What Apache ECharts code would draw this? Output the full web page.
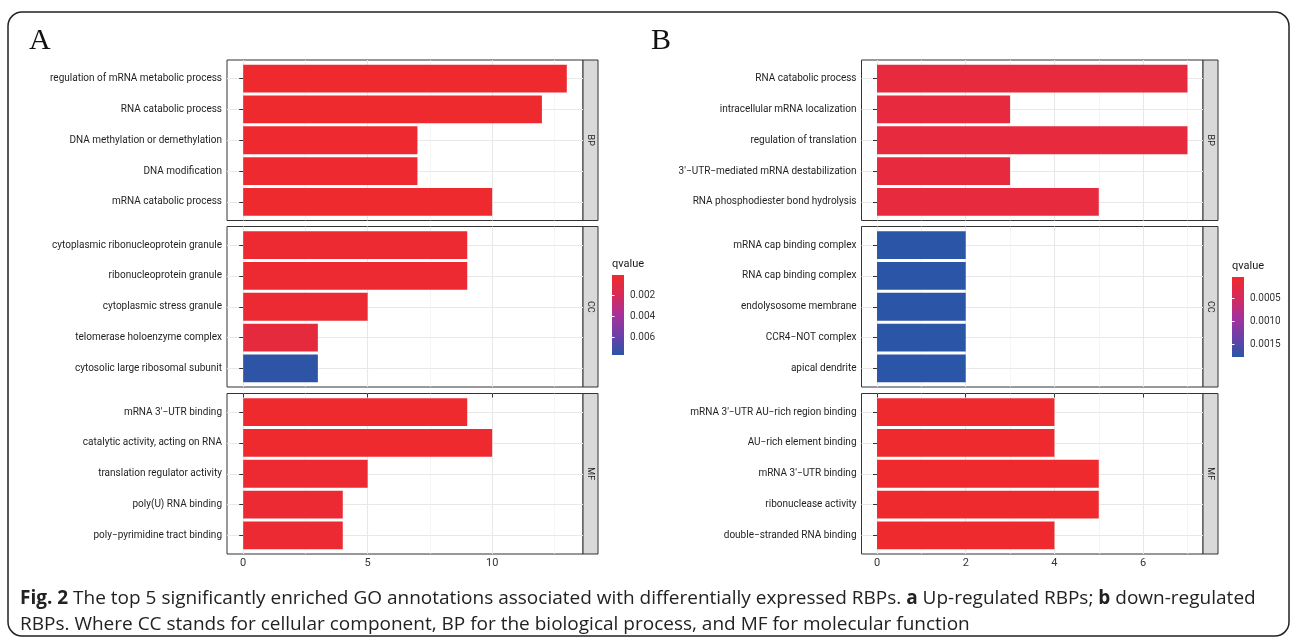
<!DOCTYPE html>
<html>
<head>
<meta charset="utf-8">
<script src="https://cdn.jsdelivr.net/npm/echarts@6/dist/echarts.min.js"></script>
<style>
html,body{margin:0;padding:0;background:#fff;}
#main{width:1295px;height:639px;}
</style>
</head>
<body>
<div id="main"></div>
<script>
// ---- panel A : up-regulated RBPs ----
var termsA_BP=['regulation of mRNA metabolic process','RNA catabolic process','DNA methylation or demethylation','DNA modification','mRNA catabolic process'];
var countA_BP=[13,12,7,7,10];
var qA_BP=[0.00008,0.0001,0.00015,0.00015,0.0001];
var termsA_CC=['cytoplasmic ribonucleoprotein granule','ribonucleoprotein granule','cytoplasmic stress granule','telomerase holoenzyme complex','cytosolic large ribosomal subunit'];
var countA_CC=[9,9,5,3,3];
var qA_CC=[0.0002,0.0002,0.0003,0.0008,0.0076];
var termsA_MF=['mRNA 3\'\u2212UTR binding','catalytic activity, acting on RNA','translation regulator activity','poly(U) RNA binding','poly\u2212pyrimidine tract binding'];
var countA_MF=[9,10,5,4,4];
var qA_MF=[0.0001,0.00008,0.0002,0.0003,0.0003];
var ticksA=[0,5,10];
var minorA=[2.5,7.5,12.5];
var legendTicksA=[0.002,0.004,0.006];
var qRangeA=[0.00005,0.0077];

// ---- panel B : down-regulated RBPs ----
var termsB_BP=['RNA catabolic process','intracellular mRNA localization','regulation of translation','3\'\u2212UTR\u2212mediated mRNA destabilization','RNA phosphodiester bond hydrolysis'];
var countB_BP=[7,3,7,3,5];
var qB_BP=[0.0002,0.0002,0.0002,0.0002,0.0002];
var termsB_CC=['mRNA cap binding complex','RNA cap binding complex','endolysosome membrane','CCR4\u2212NOT complex','apical dendrite'];
var countB_CC=[2,2,2,2,2];
var qB_CC=[0.00178,0.00178,0.00178,0.00178,0.00178];
var termsB_MF=['mRNA 3\'\u2212UTR AU\u2212rich region binding','AU\u2212rich element binding','mRNA 3\'\u2212UTR binding','ribonuclease activity','double\u2212stranded RNA binding'];
var countB_MF=[4,4,5,5,4];
var qB_MF=[0.00005,0.00005,0.00005,0.00005,0.00005];
var ticksB=[0,2,4,6];
var minorB=[1,3,5,7];
var legendTicksB=[0.0005,0.0010,0.0015];
var qRangeB=[0.00004,0.00178];

var facetNames=['BP','CC','MF'];
// low qvalue -> red, high -> blue
var qColors=['#EF2A2E','#D82A58','#A8309A','#6C40A8','#2B55A6'];

var labelFont='Roboto,"Liberation Sans",Arial,sans-serif';
var facetTop=[60,226.5,393.5];
var facetH=160.5;

var grids=[],xAxes=[],yAxes=[],series=[],graphics=[];

//one column of three facets
function addPanel(left,width,xMin,xMax,ticks,minor,facets){
	var idx=[];
	facets.forEach(function(f,k){
		var top=facetTop[k];
		var last=(k==facets.length-1);
		var n=f.terms.length;
		//discrete scale: 0.6 of a row added on both ends
		var u=facetH/(n+0.2);
		var rows=[];
		for(var i=0;i<n;i++){rows.push(i+0.6);}
		//frame grid: border + grid lines
		var gi=grids.length;
		grids.push({left:left,top:top,width:width,height:facetH,show:true,borderColor:'#333',borderWidth:1,backgroundColor:'#fff'});
		xAxes.push({gridIndex:gi,type:'value',min:xMin,max:xMax,position:'bottom',
			axisLine:{show:false},
			axisTick:{show:last,customValues:ticks,length:4,lineStyle:{color:'#333'}},
			axisLabel:{show:last,customValues:ticks,color:'#333',fontSize:11,margin:4,fontFamily:labelFont},
			splitLine:{show:true,lineStyle:{color:'#E8E8E8',width:1.1}}});
		xAxes.push({gridIndex:gi,type:'value',min:xMin,max:xMax,position:'top',
			axisLine:{show:false},axisTick:{show:false,customValues:minor},axisLabel:{show:false},
			splitLine:{show:true,lineStyle:{color:'#F0F0F0',width:0.7}}});
		yAxes.push({gridIndex:gi,type:'value',min:0,max:n+0.2,inverse:true,
			axisLine:{show:false},axisTick:{show:false,customValues:rows},axisLabel:{show:false},
			splitLine:{show:true,lineStyle:{color:'#E8E8E8',width:1.1}}});
		//bar grid
		var bi=grids.length;
		grids.push({left:left,top:top+0.1*u,width:width,height:n*u});
		xAxes.push({gridIndex:bi,type:'value',min:xMin,max:xMax,show:false});
		yAxes.push({gridIndex:bi,type:'category',data:f.terms,inverse:true,
			axisLine:{show:false},
			axisTick:{show:true,alignWithLabel:true,length:4,lineStyle:{color:'#333'}},
			axisLabel:{color:'#1f1f1f',fontSize:10,margin:5,fontFamily:labelFont},
			splitLine:{show:false}});
		var data=[];
		for(var j=0;j<n;j++){data.push([f.counts[j],f.terms[j],f.q[j]]);}
		idx.push(series.length);
		series.push({type:'bar',xAxisIndex:xAxes.length-1,yAxisIndex:yAxes.length-1,
			barCategoryGap:'10%',encode:{x:0,y:1},data:data,silent:true});
		//facet strip
		graphics.push({type:'rect',shape:{x:left+width,y:top,width:15,height:facetH},
			style:{fill:'#D9D9D9',stroke:'#333',lineWidth:1}});
		graphics.push({type:'text',x:left+width+7.5,y:top+facetH/2,rotation:-Math.PI/2,
			style:{text:facetNames[k],fill:'#1a1a1a',fontSize:9,fontFamily:labelFont,align:'center',verticalAlign:'middle'}});
	});
	return idx;
}

//colour bar legend
function addLegend(left,top,range,ticks,digits){
	var stops=qColors.map(function(c,i){return {offset:i/(qColors.length-1),color:c};});
	var gi=grids.length;
	grids.push({left:left,top:top,width:12,height:80,show:true,borderWidth:0,
		backgroundColor:new echarts.graphic.LinearGradient(0,0,0,1,stops)});
	xAxes.push({gridIndex:gi,type:'value',min:0,max:1,show:false});
	yAxes.push({gridIndex:gi,type:'value',min:range[0],max:range[1],inverse:true,position:'right',
		axisLine:{show:false},
		axisTick:{show:true,inside:true,length:2.5,customValues:ticks,lineStyle:{color:'#fff',width:1}},
		axisLabel:{show:true,customValues:ticks,fontSize:10,color:'#333',margin:6,fontFamily:labelFont,
			formatter:function(v){return v.toFixed(digits);}},
		splitLine:{show:false}});
	yAxes.push({gridIndex:gi,type:'value',min:range[0],max:range[1],inverse:true,position:'left',
		axisLine:{show:false},
		axisTick:{show:true,inside:true,length:2.5,customValues:ticks,lineStyle:{color:'#fff',width:1}},
		axisLabel:{show:false},splitLine:{show:false}});
	graphics.push({type:'text',x:left,y:top-11,
		style:{text:'qvalue',fill:'#1a1a1a',fontSize:11,fontFamily:labelFont,verticalAlign:'middle'}});
}

var idxA=addPanel(227,356,-0.65,13.65,ticksA,minorA,[
	{terms:termsA_BP,counts:countA_BP,q:qA_BP},
	{terms:termsA_CC,counts:countA_CC,q:qA_CC},
	{terms:termsA_MF,counts:countA_MF,q:qA_MF}]);
var idxB=addPanel(861.5,341.5,-0.35,7.35,ticksB,minorB,[
	{terms:termsB_BP,counts:countB_BP,q:qB_BP},
	{terms:termsB_CC,counts:countB_CC,q:qB_CC},
	{terms:termsB_MF,counts:countB_MF,q:qB_MF}]);
addLegend(612,275,qRangeA,legendTicksA,3);
addLegend(1232,277,qRangeB,legendTicksB,4);

//outer frame of the figure
graphics.unshift({type:'rect',shape:{x:8,y:12,width:1281,height:624,r:14},
	style:{fill:'none',stroke:'#222',lineWidth:1.5}});

var caption='{b|Fig. 2} The top 5 significantly enriched GO annotations associated with differentially expressed RBPs. {b|a} Up-regulated RBPs; {b|b} down-regulated\n'+
	'RBPs. Where CC stands for cellular component, BP for the biological process, and MF for molecular function';

var chart=echarts.init(document.getElementById('main'));
chart.setOption({
	animation:false,
	title:[
		{text:'A',left:29,top:26,padding:0,textStyle:{fontFamily:'"Liberation Serif",serif',fontSize:30,fontWeight:'normal',color:'#111'}},
		{text:'B',left:651,top:26,padding:0,textStyle:{fontFamily:'"Liberation Serif",serif',fontSize:30,fontWeight:'normal',color:'#111'}},
		{text:caption,left:20,top:586,padding:0,textStyle:{fontFamily:'"Open Sans",sans-serif',fontSize:19,fontWeight:'normal',color:'#222',lineHeight:26,
			rich:{b:{fontWeight:'bold',fontFamily:'"Open Sans",sans-serif',fontSize:19,color:'#222',lineHeight:26}}}}
	],
	visualMap:[
		{type:'continuous',show:false,seriesIndex:idxA,dimension:2,min:qRangeA[0],max:qRangeA[1],inRange:{color:qColors}},
		{type:'continuous',show:false,seriesIndex:idxB,dimension:2,min:qRangeB[0],max:qRangeB[1],inRange:{color:qColors}}
	],
	grid:grids,
	xAxis:xAxes,
	yAxis:yAxes,
	series:series,
	graphic:graphics
});
</script>
</body>
</html>
